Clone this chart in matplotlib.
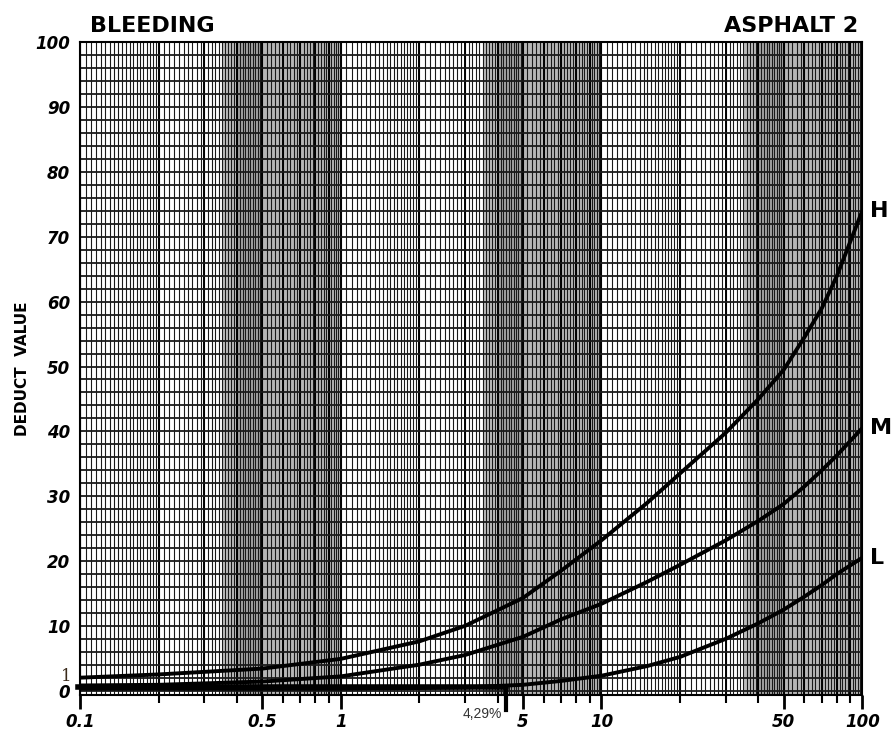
import numpy as np
import matplotlib.pyplot as plt
from matplotlib.ticker import LogLocator, NullFormatter

# values (x = density %, y = deduct value)
dens = [0.1, 0.2, 0.5, 1, 2, 3, 5, 7, 10, 15, 20, 30, 40, 50, 60, 70, 80, 100]
high = [2.0, 2.5, 3.4, 4.9, 7.6, 10.0, 14.3, 18.5, 23.2, 29.0, 33.5, 39.8, 45.0, 49.5, 54.5, 59.0, 64.0, 74.0]
med = [0.8, 0.9, 1.4, 2.2, 4.0, 5.5, 8.3, 11.0, 13.4, 16.8, 19.4, 23.2, 26.2, 28.8, 31.5, 34.0, 36.3, 40.5]
low = [0.3, 0.3, 0.3, 0.3, 0.4, 0.5, 0.9, 1.5, 2.3, 3.8, 5.2, 8.0, 10.4, 12.5, 14.5, 16.3, 18.0, 20.5]

x_labels = ['0.1', '0.5', '1', '5', '10', '50', '100']
x_label_pos = [0.1, 0.5, 1, 5, 10, 50, 100]
y_ticks = list(range(0, 101, 10))

mark_x = 4.29
mark_y = 0.5

fig = plt.figure(figsize=(8.96, 7.31), dpi=100)
ax = fig.add_axes([0.0893, 0.0490, 0.873, 0.893])
ax.set_xscale('log')
ax.set_xlim(0.1, 100)
ax.set_ylim(-0.7, 100)

# gray shading of the log paper
for d in [1, 10, 100]:
    ax.axvspan(0.35 * d, 0.4 * d, color='#bcbcbc', lw=0, zorder=0)
    ax.axvspan(0.4 * d, 0.5 * d, color='#a3a3a3', lw=0, zorder=0)
    ax.axvspan(0.5 * d, 1.0 * d, color='#b6b6b6', lw=0, zorder=0)

# log paper grid
for d in [0.1, 1, 10]:
    fine = np.concatenate([np.arange(1, 2, 0.05), np.arange(2, 5, 0.1), np.arange(5, 10, 0.2)]) * d
    for v in fine:
        ax.axvline(v, color='#1a1a1a', lw=0.8, zorder=1)
    for v in np.arange(1, 10) * d:
        ax.axvline(v, color='black', lw=1.4, zorder=1)
for v in range(0, 101, 2):
    ax.axhline(v, color='#1a1a1a', lw=1.3, zorder=1)

ax.plot(dens, high, color='black', lw=2.8, zorder=3, solid_capstyle='round')
ax.plot(dens, med, color='black', lw=2.8, zorder=3, solid_capstyle='round')
ax.plot(dens, low, color='black', lw=2.8, zorder=3, solid_capstyle='round')

ax.text(1.01, high[-1], 'H', transform=ax.get_yaxis_transform(), fontsize=16, fontweight='bold', va='center')
ax.text(1.01, med[-1], 'M', transform=ax.get_yaxis_transform(), fontsize=16, fontweight='bold', va='center')
ax.text(1.01, low[-1], 'L', transform=ax.get_yaxis_transform(), fontsize=16, fontweight='bold', va='center')

# annotation at 4.29 %
ax.plot([0.098, mark_x], [mark_y, mark_y], color='black', lw=4, zorder=4, clip_on=False)
ax.plot([mark_x, mark_x], [mark_y, -3.0], color='black', lw=3, zorder=4, clip_on=False)
ax.text(mark_x * 0.97, -2.6, '4,29%', fontsize=10, ha='right', va='top', family='Liberation Sans', color='#333333')
ax.text(0.093, 2.2, '1', fontsize=12, ha='right', va='center', family='DejaVu Serif', color='#3a2a1a')

for s in ax.spines.values():
    s.set_linewidth(1.5)

ax.set_xticks(x_label_pos)
ax.set_xticklabels(x_labels, fontsize=12, fontweight='bold', style='italic')
ax.set_yticks(y_ticks)
ax.set_yticklabels([str(v) for v in y_ticks], fontsize=12, fontweight='bold', style='italic')
ax.tick_params(axis='y', length=0, pad=7)
ax.tick_params(axis='x', which='major', length=10, width=2, pad=3)
ax.tick_params(axis='x', which='minor', length=6, width=1.5, labelbottom=False)
ax.xaxis.set_minor_locator(LogLocator(base=10, subs=[2, 3, 4, 6, 7, 8, 9]))
ax.xaxis.set_minor_formatter(NullFormatter())

ax.set_ylabel('DEDUCT  VALUE', fontsize=11, fontweight='bold', labelpad=4)
fig.text(0.10, 0.965, 'BLEEDING', fontsize=16, fontweight='bold', va='center')
fig.text(0.958, 0.965, 'ASPHALT 2', fontsize=16, fontweight='bold', va='center', ha='right')

fig.savefig('out.png', dpi=100)
